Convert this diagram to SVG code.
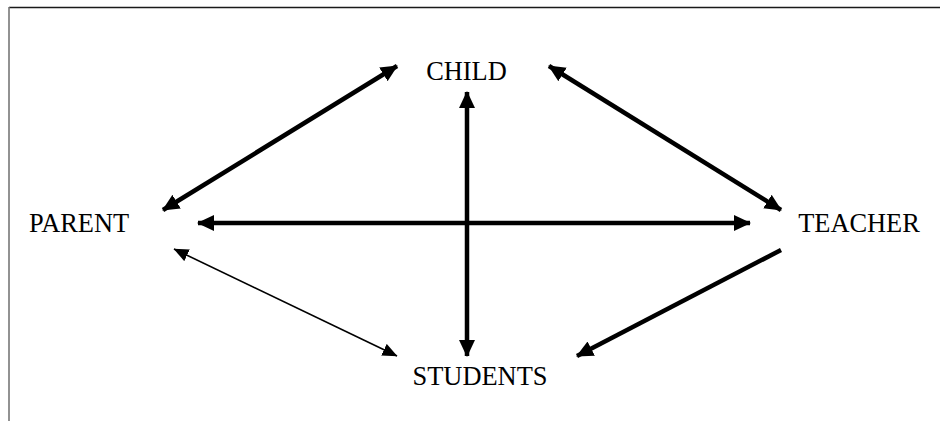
<svg xmlns="http://www.w3.org/2000/svg" width="940" height="421" viewBox="0 0 940 421">
<style>
.lbl{font-family:"Liberation Serif","Times New Roman",serif;font-size:26.4px;fill:#000;text-anchor:middle}
.thick{stroke:#000;stroke-width:4.5;fill:none}
.thin{stroke:#000;stroke-width:1.6;fill:none}
</style>
<defs>
<marker id="ah" viewBox="0 0 17 16" refX="16" refY="8" markerWidth="17" markerHeight="16" markerUnits="userSpaceOnUse" orient="auto-start-reverse">
<path d="M0,0 L17,8 L0,16 z" fill="#000"/>
</marker>
<marker id="ahs" viewBox="0 0 15 13" refX="14.5" refY="6.5" markerWidth="15" markerHeight="13" markerUnits="userSpaceOnUse" orient="auto-start-reverse">
<path d="M0,0 L15,6.5 L0,13 z" fill="#000"/>
</marker>
</defs>
<rect width="940" height="421" fill="#fff"/>
<g id="frame">
<line x1="9" y1="7.5" x2="940" y2="7.5" stroke="#1a1a1a" stroke-width="1.6"/>
<line x1="9" y1="7" x2="9" y2="421" stroke="#777" stroke-width="1.6"/>
</g>
<g id="connectors">
<line class="thick" x1="397" y1="66" x2="163" y2="210" marker-start="url(#ah)" marker-end="url(#ah)"/>
<line class="thick" x1="549" y1="66" x2="781" y2="210" marker-start="url(#ah)" marker-end="url(#ah)"/>
<line class="thick" x1="467" y1="92" x2="467" y2="356" marker-start="url(#ah)" marker-end="url(#ah)"/>
<line class="thick" x1="198" y1="223" x2="750" y2="223" marker-start="url(#ah)" marker-end="url(#ah)"/>
<line class="thin" x1="174" y1="249" x2="397" y2="356" marker-start="url(#ahs)" marker-end="url(#ahs)"/>
<line class="thick" x1="781" y1="250" x2="577" y2="356" marker-end="url(#ah)"/>
</g>
<g id="child"><text class="lbl" x="466.5" y="79.5">CHILD</text></g>
<g id="parent"><text class="lbl" x="79" y="232.3">PARENT</text></g>
<g id="teacher"><text class="lbl" x="859" y="231.7">TEACHER</text></g>
<g id="students"><text class="lbl" x="480" y="385">STUDENTS</text></g>
</svg>
